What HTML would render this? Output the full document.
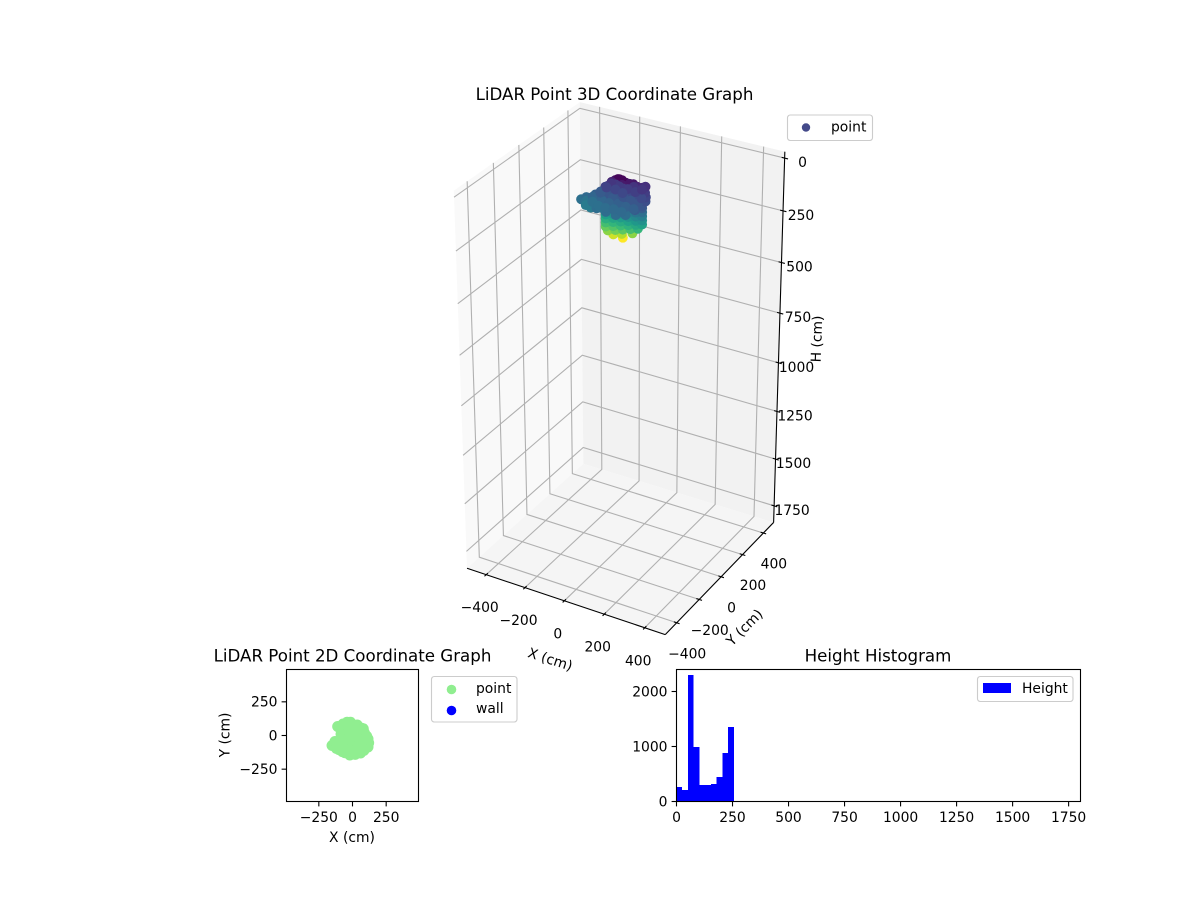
<!DOCTYPE html>
<html lang="en">
<head>
<meta charset="utf-8">
<title>LiDAR Point Graphs</title>
<style>
html,body{margin:0;padding:0;background:#fff;width:1200px;height:900px;overflow:hidden}
svg{display:block}
text{font-family:"DejaVu Sans","Liberation Sans",sans-serif;font-size:13.89px;fill:#000;dominant-baseline:central}
.title{font-size:16.67px;text-anchor:middle}
.mid{text-anchor:middle}
.end{text-anchor:end}
</style>
</head>
<body>
<svg id="fig" width="1200" height="900" viewBox="0 0 1200 900" xmlns="http://www.w3.org/2000/svg">
  <rect width="1200" height="900" fill="#fff"/>
  <g id="g3d"></g>
  <text class="title" x="614.5" y="94.5">LiDAR Point 3D Coordinate Graph</text>
  <text class="mid" transform="translate(550,660) rotate(18)">X (cm)</text>
  <text class="mid" transform="translate(745,628) rotate(-45)">Y (cm)</text>
  <text class="mid" transform="translate(817.5,339) rotate(-88)">H (cm)</text>
  <g>
    <rect x="787.5" y="115" width="85" height="25.5" rx="2.8" fill="#fff" fill-opacity="0.8" stroke="#ccc" stroke-width="1.1"/>
    <circle cx="806" cy="127.5" r="4.2" fill="#444a8a"/>
    <text x="831" y="127.5">point</text>
  </g>

  <g id="g2d"></g>
  <text class="title" x="352.5" y="656">LiDAR Point 2D Coordinate Graph</text>
  <text class="mid" x="352" y="838">X (cm)</text>
  <text class="mid" transform="translate(225.5,735) rotate(-90)">Y (cm)</text>
  <g>
    <rect x="431.5" y="676.5" width="85.5" height="45.5" rx="2.8" fill="#fff" fill-opacity="0.8" stroke="#ccc" stroke-width="1.1"/>
    <circle cx="451.5" cy="689.5" r="4.8" fill="#90ee90"/>
    <text x="476" y="689">point</text>
    <circle cx="451.5" cy="710.5" r="4.8" fill="#0000ff"/>
    <text x="476" y="709">wall</text>
  </g>

  <g id="ghist"></g>
  <text class="title" x="878" y="656">Height Histogram</text>
  <g>
    <rect x="977.5" y="676.5" width="95.5" height="25" rx="2.8" fill="#fff" fill-opacity="0.8" stroke="#ccc" stroke-width="1.1"/>
    <rect x="983" y="683" width="28" height="10" fill="#0000ff"/>
    <text x="1022" y="689">Height</text>
  </g>
</svg>
<script>
// ---- 3D chart data ----
const xTicks3d = [-400, -200, 0, 200, 400];
const yTicks3d = [-400, -200, 0, 200, 400];
const zTicks3d = [0, 250, 500, 750, 1000, 1250, 1500, 1750];
const pointX3d = [
  5, -25,16,67, -35,1,37,73,109,
  -45,-9,27,63,99,129, -45,-9,27,63,99,129, -45,-9,27,63,99,129, -45,-9,27,63,99,129, -45,-9,27,63,99,129,
  -5,20,50,-30,-55,-10,30,-60,65,5,-15,35,-45,10,85,-75,
  -152,-135,-115,-95,-75,-130,-120,-90,-50,0,50,85,115,125,125,115,100,85,
  -80,-40,0,40,-40,0,40,80,80,40,0,-40,40,-80,-40,-100,
  -110,-60,-60,-100,-60,-20,-20,-20,20,20,20,60,60,60,100,100,100,20,60,80,-20,-60,-90,-70,-30,10];
const pointY3d = [
  0, -27,-27,-27, -55,-55,-55,-55,-55,
  -55,-55,-55,-55,-55,-55, -55,-55,-55,-55,-55,-55, -55,-55,-55,-55,-55,-55, -55,-55,-55,-55,-55,-55, -55,-55,-55,-55,-55,-55,
  -10,0,10,0,0,-20,-5,-10,15,-5,-5,5,-5,-15,25,-5,
  -74,-60,-20,-10,10,-70,-90,-100,-120,-130,-135,-115,-90,-50,-20,0,20,50,
  -40,-60,-80,-90,-20,-30,-40,-60,-20,0,10,20,30,-80,-100,-40,
  -50,-30,-60,-70,-90,-40,-70,-100,-60,-100,-20,-30,-70,-105,-40,-75,-10,15,10,30,15,15,-20,-5,0,-10];
const pointH3d = [
  282, 262,249,233, 233,222,211,199,188,
  217,206,194,183,172,163, 198,187,175,164,153,144, 179,168,156,145,134,125, 160,149,137,126,115,106, 141,130,118,107,96,87,
  6,20,24,20,48,24,32,50,34,10,10,24,30,26,38,60,
  108,100,100,85,65,112,120,120,104,104,104,104,84,80,72,64,56,44,
  88,92,96,96,76,80,84,88,72,68,56,52,48,108,108,88,
  96,80,96,108,108,84,94,104,90,100,78,80,92,100,80,90,68,56,58,50,54,50,85,62,64,66];

// ---- 2D chart data ----
const xTicks2d = [-250, 0, 250];
const yTicks2d = [-250, 0, 250];
const pointX2d = [-152,-130,-85,-110,-85,-70,-40,-15,35,65,88,105,115,115,120,85,60,20,-20,-55,-75,-100,-120,
  -80,-80,-40,0,40,-85,-45,0,45,-90,-45,0,50,-60,-15,35,70,-115,80,-20,20,-60,85];
const pointY2d = [-74,-45,-25,67,40,85,98,98,78,55,20,-5,-25,-85,-55,-110,-130,-140,-145,-128,-120,-105,-95,
  15,50,50,50,40,10,10,10,5,-30,-30,-30,-30,-70,-75,-80,-65,-65,50,-110,-110,-100,-30];

// ---- Histogram data ----
const histCounts = [260,206,2297,988,297,297,315,442,879,1352];
const histBinWidth = 25.6;
const histXTicks = [0,250,500,750,1000,1250,1500,1750];
const histYTicks = [0,1000,2000];

const NS = 'http://www.w3.org/2000/svg';
function mk(parent, tag, attrs, txt){
  const e = document.createElementNS(NS, tag);
  for (const k in attrs) e.setAttribute(k, attrs[k]);
  if (txt !== undefined) e.textContent = txt;
  parent.appendChild(e);
  return e;
}
function fmt(v){ return String(v).replace('-', '\u2212'); }

// ---- 3D projection calibrated against the box corners ----
const XMIN=-500, XMAX=500, YMIN=-500, YMAX=500, ZTOP=-30, ZBOT=1840;
const calib = [
 [XMIN,YMAX,ZTOP,579,103],[XMAX,YMAX,ZTOP,785,152],[XMIN,YMIN,ZTOP,454,190],
 [XMIN,YMAX,ZBOT,583,463],[XMAX,YMAX,ZBOT,773,523],[XMIN,YMIN,ZBOT,467,568],[XMAX,YMIN,ZBOT,665,635],
 [XMIN,YMAX,0,580,108],[XMIN,YMAX,1750,583,447],[XMAX,YMAX,0,785,158],[XMAX,YMAX,1750,774,505],
 [XMIN,YMIN,0,454,197],[XMIN,YMIN,1750,467,552],
 [-400,YMIN,ZBOT,487,576],[400,YMIN,ZBOT,643,627],[XMAX,-400,ZBOT,677,622],[XMAX,400,ZBOT,765,534]
];
function norm(x,y,z){ return [x/500,y/500,(z-900)/935]; }
function solveProjection(){
  const N=11, A=[], B=[];
  for(let i=0;i<N;i++){A.push(new Array(N).fill(0));B.push(0);}
  function addRow(r,b){
    for(let i=0;i<N;i++){ B[i]+=r[i]*b; for(let j=0;j<N;j++) A[i][j]+=r[i]*r[j]; }
  }
  calib.forEach(c=>{
    const [a,b,d]=norm(c[0],c[1],c[2]); const u=c[3], v=c[4];
    addRow([a,b,d,1,0,0,0,0,-u*a,-u*b,-u*d],u);
    addRow([0,0,0,0,a,b,d,1,-v*a,-v*b,-v*d],v);
  });
  for(let i=0;i<N;i++){
    let p=i; for(let r=i+1;r<N;r++) if(Math.abs(A[r][i])>Math.abs(A[p][i])) p=r;
    [A[i],A[p]]=[A[p],A[i]]; [B[i],B[p]]=[B[p],B[i]];
    for(let r=0;r<N;r++){ if(r===i) continue;
      const f=A[r][i]/A[i][i];
      for(let c=i;c<N;c++) A[r][c]-=f*A[i][c];
      B[r]-=f*B[i];
    }
  }
  return B.map((b,i)=>b/A[i][i]);
}
const P = solveProjection();
function proj(x,y,z){
  const [a,b,d]=norm(x,y,z);
  const w=P[8]*a+P[9]*b+P[10]*d+1;
  return [(P[0]*a+P[1]*b+P[2]*d+P[3])/w,(P[4]*a+P[5]*b+P[6]*d+P[7])/w];
}
function poly(parent, pts, fill){
  return mk(parent,'polygon',{points:pts.map(p=>p[0].toFixed(2)+','+p[1].toFixed(2)).join(' '),fill:fill,stroke:'none'});
}
function seg(parent,a,b,stroke,w){
  return mk(parent,'line',{x1:a[0].toFixed(2),y1:a[1].toFixed(2),x2:b[0].toFixed(2),y2:b[1].toFixed(2),stroke:stroke,'stroke-width':w});
}

const viridisStops = ['#440154','#482878','#3e4989','#31688e','#26828e','#1f9e89','#35b779','#6ece58','#b5de2b','#fde725'];
function viridis(t){
  t=Math.max(0,Math.min(1,t))*(viridisStops.length-1);
  const i=Math.min(Math.floor(t),viridisStops.length-2), f=t-i;
  const h=s=>[1,3,5].map(k=>parseInt(s.substr(k,2),16));
  const a=h(viridisStops[i]), b=h(viridisStops[i+1]);
  return 'rgb('+a.map((v,k)=>Math.round(v+(b[k]-v)*f)).join(',')+')';
}

// ---- draw 3D ----
(function(){
  const g=document.getElementById('g3d');
  const gridC='#b0b0b0', gw=1.1;
  const left=poly(g,[proj(XMIN,YMAX,ZTOP),proj(XMIN,YMIN,ZTOP),proj(XMIN,YMIN,ZBOT),proj(XMIN,YMAX,ZBOT)],'#f9f9f9');
  
  
  const right=poly(g,[proj(XMIN,YMAX,ZTOP),proj(XMAX,YMAX,ZTOP),proj(XMAX,YMAX,ZBOT),proj(XMIN,YMAX,ZBOT)],'#f2f2f2');
  
  
  const floor=poly(g,[proj(XMIN,YMAX,ZBOT),proj(XMAX,YMAX,ZBOT),proj(XMAX,YMIN,ZBOT),proj(XMIN,YMIN,ZBOT)],'#f5f5f5');
  
  

  xTicks3d.forEach(v=>{
    const l=mk(g,'polyline',{points:[proj(v,YMIN,ZBOT),proj(v,YMAX,ZBOT),proj(v,YMAX,ZTOP)].map(p=>p.join(',')).join(' '),fill:'none',stroke:gridC,'stroke-width':gw});
    
    
  });
  yTicks3d.forEach(v=>{
    const l=mk(g,'polyline',{points:[proj(XMAX,v,ZBOT),proj(XMIN,v,ZBOT),proj(XMIN,v,ZTOP)].map(p=>p.join(',')).join(' '),fill:'none',stroke:gridC,'stroke-width':gw});
    
    
  });
  zTicks3d.forEach(v=>{
    const l=mk(g,'polyline',{points:[proj(XMIN,YMIN,v),proj(XMIN,YMAX,v),proj(XMAX,YMAX,v)].map(p=>p.join(',')).join(' '),fill:'none',stroke:gridC,'stroke-width':gw});
    
    
  });

  const xAxis=seg(g,proj(XMIN,YMIN,ZBOT),proj(XMAX,YMIN,ZBOT),'#000',1.1);
  
  
  const yAxis=seg(g,proj(XMAX,YMIN,ZBOT),proj(XMAX,YMAX,ZBOT),'#000',1.1);
  
  
  const zAxis=seg(g,proj(XMAX,YMAX,ZTOP),proj(XMAX,YMAX,ZBOT),'#000',1.1);
  
  

  xTicks3d.forEach(v=>{
    const t=seg(g,proj(v,YMIN-14,ZBOT),proj(v,YMIN+14,ZBOT),'#000',1.1);
    
    
    const p=proj(v,YMIN,ZBOT);
    const s=mk(g,'text',{x:(p[0]-6.5).toFixed(1),y:(p[1]+33.5).toFixed(1),class:'mid'},fmt(v));
    
    
  });
  yTicks3d.forEach(v=>{
    const t=seg(g,proj(XMAX-14,v,ZBOT),proj(XMAX+14,v,ZBOT),'#000',1.1);
    
    
    const p=proj(XMAX,v,ZBOT);
    const s=mk(g,'text',{x:(p[0]+10.5).toFixed(1),y:(p[1]+31.5).toFixed(1),class:'mid'},fmt(v));
    
    
  });
  zTicks3d.forEach(v=>{
    const t=seg(g,proj(XMAX-14,YMAX,v),proj(XMAX+16,YMAX,v),'#000',1.1);
    
    
    const p=proj(XMAX,YMAX,v);
    const s=mk(g,'text',{x:(p[0]+18).toFixed(1),y:(p[1]+5).toFixed(1),class:'mid'},fmt(v));
    
    
  });

  const hMin=Math.min.apply(null,pointH3d), hMax=Math.max.apply(null,pointH3d);
  pointH3d.forEach((h,i)=>{
    const p=proj(pointX3d[i],pointY3d[i],h);
    const c=mk(g,'circle',{cx:p[0].toFixed(2),cy:p[1].toFixed(2),r:5,fill:viridis((h-hMin)/(hMax-hMin))});
    
    
  });
})();

// ---- draw 2D ----
(function(){
  const g=document.getElementById('g2d');
  const L=286.5,R=418.5,T=669.5,B=801.5, lim=490;
  const sx=v=>L+(v+lim)/(2*lim)*(R-L);
  const sy=v=>B-(v+lim)/(2*lim)*(B-T);
  pointX2d.forEach((x,i)=>{
    const c=mk(g,'circle',{cx:sx(x).toFixed(2),cy:sy(pointY2d[i]).toFixed(2),r:5.5,fill:'#90ee90'});
    
    
  });
  const f=mk(g,'rect',{x:L,y:T,width:R-L,height:B-T,fill:'none',stroke:'#000','stroke-width':1.1});
  
  
  xTicks2d.forEach(v=>{
    const t=seg(g,[sx(v),B],[sx(v),B+4.9],'#000',1.1);
    
    
    const s=mk(g,'text',{x:sx(v).toFixed(1),y:818,class:'mid'},fmt(v));
    
    
  });
  yTicks2d.forEach(v=>{
    const t=seg(g,[L-4.9,sy(v)],[L,sy(v)],'#000',1.1);
    
    
    const s=mk(g,'text',{x:277.5,y:(sy(v)+0.8).toFixed(1),class:'end'},fmt(v));
    
    
  });
})();

// ---- draw histogram ----
(function(){
  const g=document.getElementById('ghist');
  const L=676.5,R=1080.5,T=669.5,B=801.5, xMax=1803, yMax=2400;
  const sx=v=>L+v/xMax*(R-L);
  const sy=v=>B-v/yMax*(B-T);
  histCounts.forEach((n,i)=>{
    const x0=sx(i*histBinWidth), x1=sx((i+1)*histBinWidth);
    const r=mk(g,'rect',{x:x0.toFixed(2),y:sy(n).toFixed(2),width:(x1-x0).toFixed(2),height:(B-sy(n)).toFixed(2),fill:'#0000ff','shape-rendering':'crispEdges'});
    
    
  });
  const f=mk(g,'rect',{x:L,y:T,width:R-L,height:B-T,fill:'none',stroke:'#000','stroke-width':1.1});
  
  
  histXTicks.forEach(v=>{
    const t=seg(g,[sx(v),B],[sx(v),B+4.9],'#000',1.1);
    
    
    const s=mk(g,'text',{x:sx(v).toFixed(1),y:818,class:'mid'},fmt(v));
    
    
  });
  histYTicks.forEach(v=>{
    const t=seg(g,[L-4.9,sy(v)],[L,sy(v)],'#000',1.1);
    
    
    const s=mk(g,'text',{x:667.5,y:(sy(v)+0.8).toFixed(1),class:'end'},fmt(v));
    
    
  });
})();
</script>
</body>
</html>
